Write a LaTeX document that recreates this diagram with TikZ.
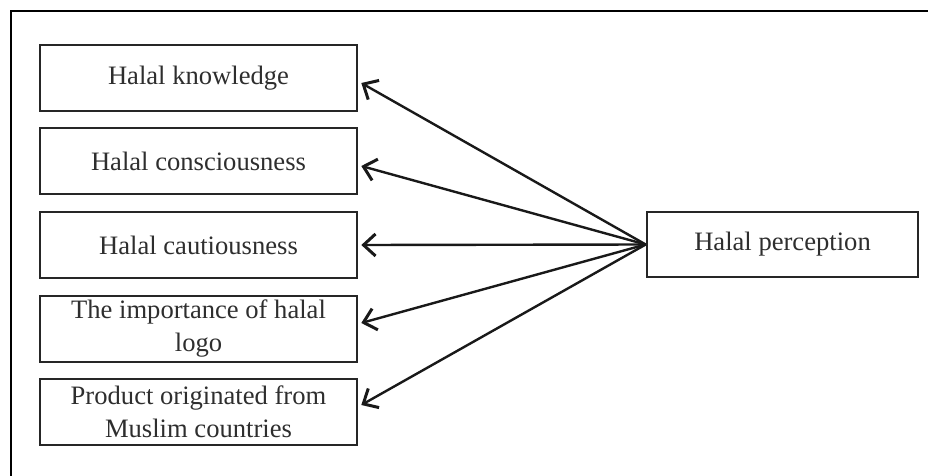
\documentclass[tikz,border=0pt]{standalone}
\usepackage{fontspec}
\setmainfont{Liberation Serif}
\usetikzlibrary{arrows.meta}
\begin{document}
\begin{tikzpicture}[x=1pt,y=-1pt,
  factor/.style={draw=black!85, line width=2.6pt, minimum width=317pt, minimum height=66pt,
    inner sep=0pt, align=center, text=black!82,
    font=\fontsize{26.6}{33}\selectfont},
  link/.style={draw=black!90, line width=2.4pt, -{Straight Barb[length=12pt,width=22pt,line width=3pt]}}]
  \useasboundingbox (0,0) rectangle (928,476);
  % outer frame
  \draw[line width=2.8pt] (928,11) -- (11,11) -- (11,476);
  % factor boxes
  \node[factor] (b1) at (198.5,78) {Halal knowledge};
  \node[factor] (b2) at (198.5,161) {Halal consciousness};
  \node[factor] (b3) at (198.5,245) {Halal cautiousness};
  \node[factor] (b4) at (198.5,329) {The importance of halal\\logo};
  \node[factor] (b5) at (198.5,412) {Product originated from\\Muslim countries};
  \node[factor, minimum width=271pt, minimum height=65pt] (hp) at (782.5,244.5) {Halal perception};
  % connectors
  \draw[link] (hp.west) -- ([shift={(3,5)}]b1.east);
  \draw[link] (hp.west) -- ([shift={(3,5)}]b2.east);
  \draw[link] (hp.west) -- ([shift={(3,0)}]b3.east);
  \draw[link] (hp.west) -- ([shift={(3,-6)}]b4.east);
  \draw[link] (hp.west) -- ([shift={(3,-7)}]b5.east);
\end{tikzpicture}
\end{document}
